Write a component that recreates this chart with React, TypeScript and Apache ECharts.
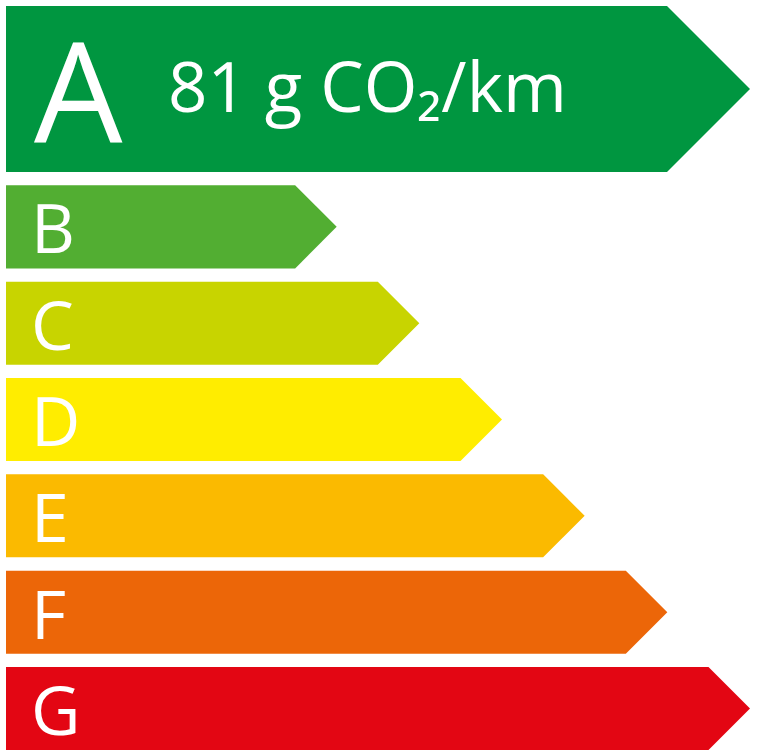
import React, { useEffect, useRef } from 'react';
import * as echarts from 'echarts';

// energy classes, top to bottom
const grades = ['A', 'B', 'C', 'D', 'E', 'F', 'G'];
// arrow length of each class (tip position on the x axis)
const lengths = [9, 4, 5, 6, 7, 8, 9];
const colors = ['#009640', '#52ae32', '#c8d400', '#ffed00', '#fbba00', '#ec6608', '#e30613'];
const activeGrade = 'A';
const emission = '81 g CO₂/km';

const BAR_H = 0.862;
const GAP = 0.138;
const rowTop = (i: number) => (i === 0 ? 0 : 2 * BAR_H + GAP + (i - 1) * (BAR_H + GAP));
const rowH = (i: number) => (i === 0 ? 2 * BAR_H : BAR_H);

const App = () => {
  const chartRef = useRef(null);

  useEffect(() => {
    const myChart = echarts.init(chartRef.current, null, { renderer: 'svg' });
    const font = '"Open Sans", sans-serif';

    const option = {
      animation: false,
      grid: { left: 6, top: 6, right: 7, bottom: 6 },
      xAxis: { type: 'value', min: 0, max: 9, show: false },
      yAxis: { type: 'value', min: 0, max: rowTop(6) + BAR_H, inverse: true, show: false },
      series: [
        {
          type: 'custom',
          data: grades.map((g, i) => [i, lengths[i]]),
          renderItem: (params: any, api: any) => {
            const i = api.value(0);
            const len = api.value(1);
            const p0 = api.coord([0, rowTop(i)]);
            const p1 = api.coord([len, rowTop(i) + rowH(i)]);
            const midY = (p0[1] + p1[1]) / 2;
            const depth = (p1[1] - p0[1]) / 2;
            const big = grades[i] === activeGrade;
            const children: any[] = [
              {
                type: 'polygon',
                shape: {
                  points: [
                    [p0[0], p0[1]],
                    [p1[0] - depth, p0[1]],
                    [p1[0], midY],
                    [p1[0] - depth, p1[1]],
                    [p0[0], p1[1]]
                  ]
                },
                style: { fill: colors[i] }
              },
              {
                type: 'text',
                x: p0[0] + (big ? 28 : 25),
                y: midY - (big ? 1 : 0),
                style: {
                  text: grades[i],
                  fill: '#fff',
                  font: `${big ? 140 : 68}px ${font}`,
                  verticalAlign: 'middle',
                  align: 'left'
                }
              }
            ];
            if (big) {
              children.push({
                type: 'text',
                x: p0[0] + 162,
                y: midY - 4,
                style: {
                  text: emission,
                  fill: '#fff',
                  font: `69px ${font}`,
                  verticalAlign: 'middle',
                  align: 'left'
                }
              });
            }
            return { type: 'group', children };
          }
        }
      ]
    };

    myChart.setOption(option);
    return () => {
      myChart.dispose();
    };
  }, []);

  return (
    <div
      ref={chartRef}
      style={{ position: 'fixed', left: 0, top: 0, width: '757px', height: '756px', background: '#fff' }}
    ></div>
  );
};

export default App;
